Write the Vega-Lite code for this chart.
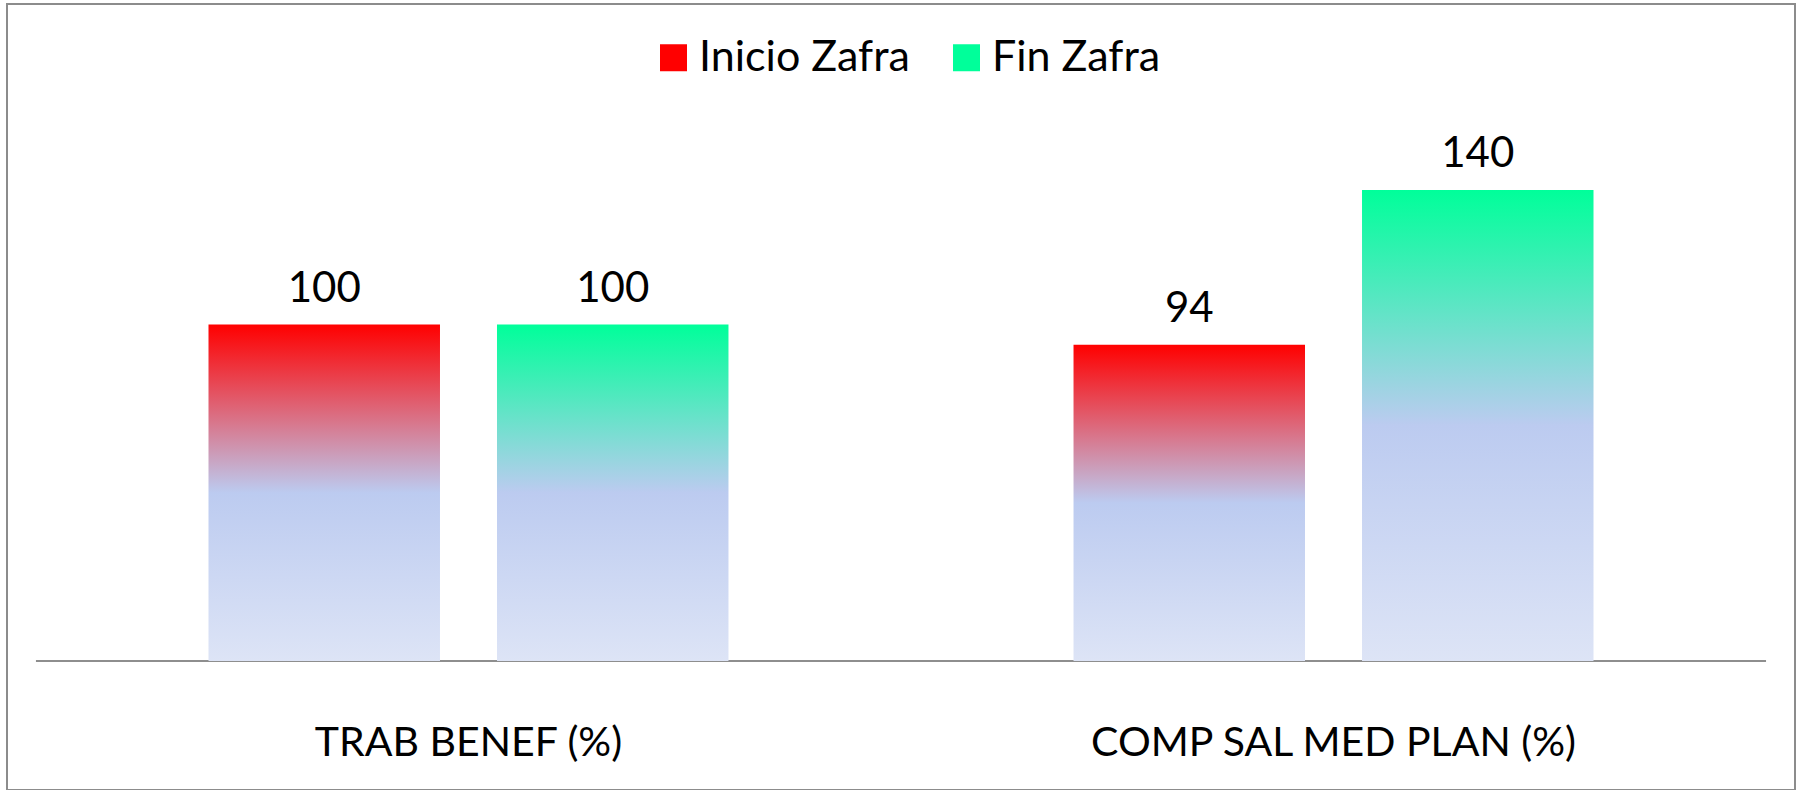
{
  "$schema": "https://vega.github.io/schema/vega-lite/v6.json",
  "autosize": {"type": "none"},
  "padding": {"left": 7, "top": 4, "right": 7, "bottom": 0},
  "width": 1788,
  "height": 786,
  "background": "white",
  "config": {
    "view": {"stroke": "#8c8c8c", "strokeWidth": 2},
    "font": "Lato"
  },
  "data": {
    "values": [
      {"cat": "TRAB BENEF (%)", "serie": "Inicio Zafra", "value": 100},
      {"cat": "TRAB BENEF (%)", "serie": "Fin Zafra", "value": 100},
      {"cat": "COMP SAL MED PLAN (%)", "serie": "Inicio Zafra", "value": 94},
      {"cat": "COMP SAL MED PLAN (%)", "serie": "Fin Zafra", "value": 140}
    ]
  },
  "encoding": {
    "x": {
      "field": "cat",
      "type": "nominal",
      "sort": ["TRAB BENEF (%)", "COMP SAL MED PLAN (%)"],
      "scale": {"paddingInner": 0, "paddingOuter": 0.0335},
      "axis": {
        "title": null,
        "domain": false,
        "ticks": false,
        "grid": false,
        "labelAngle": 0,
        "labelFont": "Lato",
        "labelFontSize": 41,
        "labelColor": "black",
        "labelBaseline": "alphabetic",
        "labelPadding": 0,
        "labelLimit": 0,
        "offset": -35
      }
    },
    "y": {
      "type": "quantitative",
      "scale": {"domain": [-38.35, 195.3], "nice": false, "zero": false},
      "axis": null
    }
  },
  "layer": [
    {
      "mark": {"type": "bar", "opacity": 0},
      "encoding": {
        "y": {"datum": 0, "type": "quantitative"},
        "y2": {"datum": 0},
        "color": {
          "field": "serie",
          "type": "nominal",
          "scale": {"domain": ["Inicio Zafra", "Fin Zafra"], "range": ["#ff0000", "#00ff9a"]},
          "legend": {
            "title": null,
            "orient": "none",
            "direction": "horizontal",
            "legendX": 645,
            "legendY": 32,
            "padding": 0,
            "symbolType": "square",
            "symbolSize": 729,
            "symbolStrokeWidth": 0,
            "symbolOpacity": 1,
            "labelFont": "Lato",
            "labelFontSize": 43,
            "labelColor": "black",
            "labelOffset": 4,
            "columnPadding": 35,
            "labelLimit": 0
          }
        }
      }
    },
    {
      "mark": {"type": "bar", "fillOpacity": 0, "stroke": "#8e8e8e", "strokeWidth": 2},
      "encoding": {
        "y": {"datum": 0, "type": "quantitative"},
        "y2": {"datum": 0}
      }
    },
    {
      "transform": [{"filter": "datum.serie === 'Inicio Zafra'"}],
      "mark": {
        "type": "bar",
        "fill": {"gradient": "linear", "x1": 0, "y1": 0, "x2": 0, "y2": 1, "stops": [{"offset": 0, "color": "#ff0000"}, {"offset": 0.5, "color": "#bccbf0"}, {"offset": 1, "color": "#dde4f6"}]}
      },
      "encoding": {
        "y": {"field": "value", "type": "quantitative"},
        "y2": {"datum": 0},
        "xOffset": {
          "field": "serie",
          "type": "nominal",
          "scale": {"domain": ["Inicio Zafra", "Fin Zafra"], "paddingInner": 0.1976, "paddingOuter": 0.598}
        }
      }
    },
    {
      "transform": [{"filter": "datum.serie === 'Fin Zafra'"}],
      "mark": {
        "type": "bar",
        "fill": {"gradient": "linear", "x1": 0, "y1": 0, "x2": 0, "y2": 1, "stops": [{"offset": 0, "color": "#00ff9a"}, {"offset": 0.5, "color": "#bccbf0"}, {"offset": 1, "color": "#dde4f6"}]}
      },
      "encoding": {
        "y": {"field": "value", "type": "quantitative"},
        "y2": {"datum": 0},
        "xOffset": {
          "field": "serie",
          "type": "nominal",
          "scale": {"domain": ["Inicio Zafra", "Fin Zafra"], "paddingInner": 0.1976, "paddingOuter": 0.598}
        }
      }
    },
    {
      "mark": {"type": "text", "baseline": "alphabetic", "dy": -23, "fontSize": 42, "font": "Lato", "color": "black"},
      "encoding": {
        "y": {"field": "value", "type": "quantitative"},
        "xOffset": {
          "field": "serie",
          "type": "nominal",
          "scale": {"domain": ["Inicio Zafra", "Fin Zafra"], "paddingInner": 0.1976, "paddingOuter": 0.598}
        },
        "text": {"field": "value", "type": "quantitative"}
      }
    }
  ]
}
